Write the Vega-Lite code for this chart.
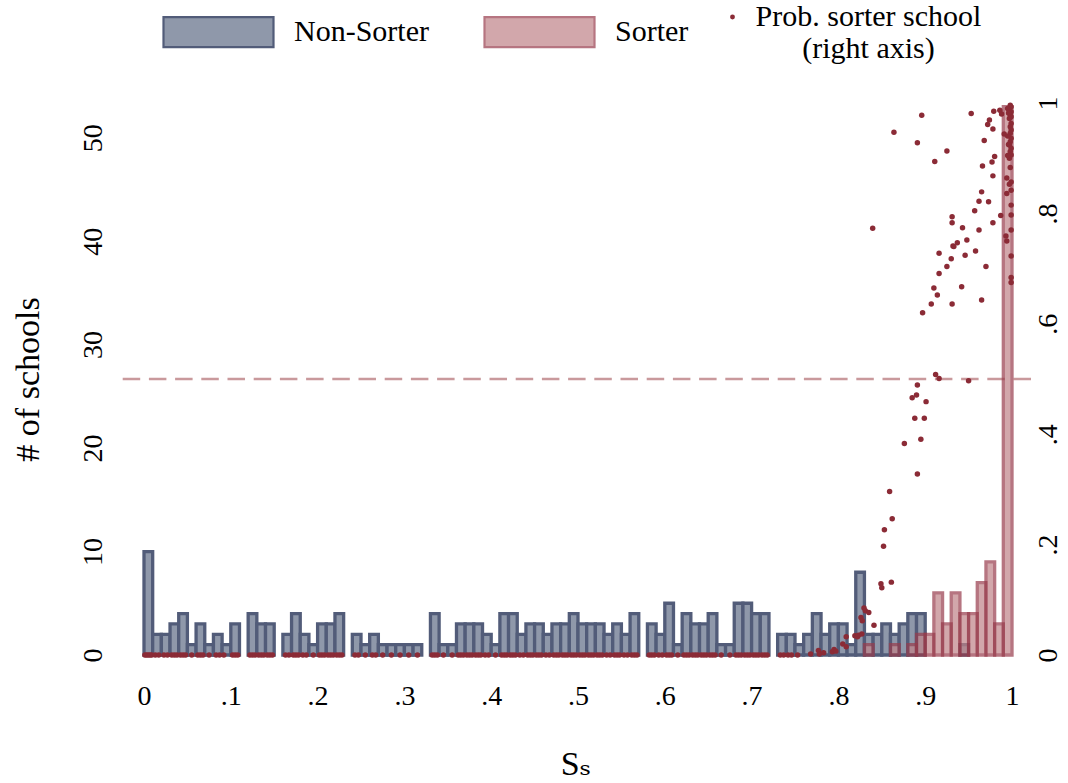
{
  "$schema": "https://vega.github.io/schema/vega-lite/v6.json",
  "width": 911,
  "height": 552,
  "autosize": {"type": "none"},
  "padding": {"left": 120, "top": 103, "right": 37, "bottom": 128},
  "background": "white",
  "config": {
    "font": "Liberation Serif, Times New Roman, DejaVu Serif, serif",
    "view": {"stroke": null},
    "axis": {"labelFont": "Liberation Serif, Times New Roman, DejaVu Serif, serif", "titleFont": "Liberation Serif, Times New Roman, DejaVu Serif, serif", "labelColor": "#000", "titleColor": "#000", "titleFontWeight": "normal", "grid": false, "domain": false, "ticks": false, "tickSize": 0, "labelFontSize": 28, "titleFontSize": 34, "labelFlush": false, "labelOverlap": false},
    "legend": {"labelFont": "Liberation Serif, Times New Roman, DejaVu Serif, serif", "labelFontSize": 30, "labelColor": "#000", "labelLimit": 400, "padding": 0}
  },
  "layer": [
    {
      "data": {"values": [{"p": 0.5}]},
      "mark": {"type": "rule", "color": "#c9999c", "strokeWidth": 2.7, "strokeDash": [17.5, 8.7]},
      "encoding": {
        "y": {"field": "p", "type": "quantitative", "scale": {"domain": [0, 1], "nice": false, "zero": false}, "axis": null}
      }
    },
    {
      "data": {"values": [
        {"g":"Non-Sorter","x0":0.00,"x1":0.01,"n":10},{"g":"Non-Sorter","x0":0.01,"x1":0.02,"n":2},{"g":"Non-Sorter","x0":0.02,"x1":0.03,"n":2},{"g":"Non-Sorter","x0":0.03,"x1":0.04,"n":3},{"g":"Non-Sorter","x0":0.04,"x1":0.05,"n":4},{"g":"Non-Sorter","x0":0.05,"x1":0.06,"n":1},{"g":"Non-Sorter","x0":0.06,"x1":0.07,"n":3},{"g":"Non-Sorter","x0":0.07,"x1":0.08,"n":1},{"g":"Non-Sorter","x0":0.08,"x1":0.09,"n":2},{"g":"Non-Sorter","x0":0.09,"x1":0.10,"n":1},
        {"g":"Non-Sorter","x0":0.10,"x1":0.11,"n":3},{"g":"Non-Sorter","x0":0.12,"x1":0.13,"n":4},{"g":"Non-Sorter","x0":0.13,"x1":0.14,"n":3},{"g":"Non-Sorter","x0":0.14,"x1":0.15,"n":3},{"g":"Non-Sorter","x0":0.16,"x1":0.17,"n":2},{"g":"Non-Sorter","x0":0.17,"x1":0.18,"n":4},{"g":"Non-Sorter","x0":0.18,"x1":0.19,"n":2},{"g":"Non-Sorter","x0":0.19,"x1":0.20,"n":1},
        {"g":"Non-Sorter","x0":0.20,"x1":0.21,"n":3},{"g":"Non-Sorter","x0":0.21,"x1":0.22,"n":3},{"g":"Non-Sorter","x0":0.22,"x1":0.23,"n":4},{"g":"Non-Sorter","x0":0.24,"x1":0.25,"n":2},{"g":"Non-Sorter","x0":0.25,"x1":0.26,"n":1},{"g":"Non-Sorter","x0":0.26,"x1":0.27,"n":2},{"g":"Non-Sorter","x0":0.27,"x1":0.28,"n":1},{"g":"Non-Sorter","x0":0.28,"x1":0.29,"n":1},{"g":"Non-Sorter","x0":0.29,"x1":0.30,"n":1},
        {"g":"Non-Sorter","x0":0.30,"x1":0.31,"n":1},{"g":"Non-Sorter","x0":0.31,"x1":0.32,"n":1},{"g":"Non-Sorter","x0":0.33,"x1":0.34,"n":4},{"g":"Non-Sorter","x0":0.34,"x1":0.35,"n":1},{"g":"Non-Sorter","x0":0.35,"x1":0.36,"n":1},{"g":"Non-Sorter","x0":0.36,"x1":0.37,"n":3},{"g":"Non-Sorter","x0":0.37,"x1":0.38,"n":3},{"g":"Non-Sorter","x0":0.38,"x1":0.39,"n":3},{"g":"Non-Sorter","x0":0.39,"x1":0.40,"n":2},
        {"g":"Non-Sorter","x0":0.40,"x1":0.41,"n":1},{"g":"Non-Sorter","x0":0.41,"x1":0.42,"n":4},{"g":"Non-Sorter","x0":0.42,"x1":0.43,"n":4},{"g":"Non-Sorter","x0":0.43,"x1":0.44,"n":2},{"g":"Non-Sorter","x0":0.44,"x1":0.45,"n":3},{"g":"Non-Sorter","x0":0.45,"x1":0.46,"n":3},{"g":"Non-Sorter","x0":0.46,"x1":0.47,"n":2},{"g":"Non-Sorter","x0":0.47,"x1":0.48,"n":3},{"g":"Non-Sorter","x0":0.48,"x1":0.49,"n":3},{"g":"Non-Sorter","x0":0.49,"x1":0.50,"n":4},
        {"g":"Non-Sorter","x0":0.50,"x1":0.51,"n":3},{"g":"Non-Sorter","x0":0.51,"x1":0.52,"n":3},{"g":"Non-Sorter","x0":0.52,"x1":0.53,"n":3},{"g":"Non-Sorter","x0":0.53,"x1":0.54,"n":2},{"g":"Non-Sorter","x0":0.54,"x1":0.55,"n":3},{"g":"Non-Sorter","x0":0.55,"x1":0.56,"n":2},{"g":"Non-Sorter","x0":0.56,"x1":0.57,"n":4},{"g":"Non-Sorter","x0":0.58,"x1":0.59,"n":3},{"g":"Non-Sorter","x0":0.59,"x1":0.60,"n":2},
        {"g":"Non-Sorter","x0":0.60,"x1":0.61,"n":5},{"g":"Non-Sorter","x0":0.61,"x1":0.62,"n":1},{"g":"Non-Sorter","x0":0.62,"x1":0.63,"n":4},{"g":"Non-Sorter","x0":0.63,"x1":0.64,"n":3},{"g":"Non-Sorter","x0":0.64,"x1":0.65,"n":3},{"g":"Non-Sorter","x0":0.65,"x1":0.66,"n":4},{"g":"Non-Sorter","x0":0.66,"x1":0.67,"n":1},{"g":"Non-Sorter","x0":0.67,"x1":0.68,"n":1},{"g":"Non-Sorter","x0":0.68,"x1":0.69,"n":5},{"g":"Non-Sorter","x0":0.69,"x1":0.70,"n":5},
        {"g":"Non-Sorter","x0":0.70,"x1":0.71,"n":4},{"g":"Non-Sorter","x0":0.71,"x1":0.72,"n":4},{"g":"Non-Sorter","x0":0.73,"x1":0.74,"n":2},{"g":"Non-Sorter","x0":0.74,"x1":0.75,"n":2},{"g":"Non-Sorter","x0":0.75,"x1":0.76,"n":1},{"g":"Non-Sorter","x0":0.76,"x1":0.77,"n":2},{"g":"Non-Sorter","x0":0.77,"x1":0.78,"n":4},{"g":"Non-Sorter","x0":0.78,"x1":0.79,"n":2},{"g":"Non-Sorter","x0":0.79,"x1":0.80,"n":3},
        {"g":"Non-Sorter","x0":0.80,"x1":0.81,"n":3},{"g":"Non-Sorter","x0":0.81,"x1":0.82,"n":1},{"g":"Non-Sorter","x0":0.82,"x1":0.83,"n":8},{"g":"Non-Sorter","x0":0.83,"x1":0.84,"n":2},{"g":"Non-Sorter","x0":0.84,"x1":0.85,"n":2},{"g":"Non-Sorter","x0":0.85,"x1":0.86,"n":3},{"g":"Non-Sorter","x0":0.86,"x1":0.87,"n":2},{"g":"Non-Sorter","x0":0.87,"x1":0.88,"n":3},{"g":"Non-Sorter","x0":0.88,"x1":0.89,"n":4},{"g":"Non-Sorter","x0":0.89,"x1":0.90,"n":4},
        {"g":"Non-Sorter","x0":0.94,"x1":0.95,"n":1},
        {"g":"Sorter","x0":0.83,"x1":0.84,"n":1},{"g":"Sorter","x0":0.86,"x1":0.87,"n":1},{"g":"Sorter","x0":0.88,"x1":0.89,"n":1},{"g":"Sorter","x0":0.89,"x1":0.90,"n":2},{"g":"Sorter","x0":0.90,"x1":0.91,"n":2},{"g":"Sorter","x0":0.91,"x1":0.92,"n":6},{"g":"Sorter","x0":0.92,"x1":0.93,"n":3},{"g":"Sorter","x0":0.93,"x1":0.94,"n":6},{"g":"Sorter","x0":0.94,"x1":0.95,"n":4},{"g":"Sorter","x0":0.95,"x1":0.96,"n":4},{"g":"Sorter","x0":0.96,"x1":0.97,"n":7},{"g":"Sorter","x0":0.97,"x1":0.98,"n":9},{"g":"Sorter","x0":0.98,"x1":0.99,"n":3},{"g":"Sorter","x0":0.99,"x1":1.00,"n":53}
      ]},
      "mark": {"type": "bar", "strokeWidth": 3.3},
      "encoding": {
        "x": {"field": "x0", "type": "quantitative", "scale": {"domain": [-0.02765, 1.02189], "nice": false, "zero": false},
          "axis": {"values": [0, 0.1, 0.2, 0.3, 0.4, 0.5, 0.6, 0.7, 0.8, 0.9, 1], "labelExpr": "datum.value == 0 ? '0' : datum.value == 1 ? '1' : replace(format(datum.value, '.1f'), '0.', '.')", "labelPadding": 27, "title": "Sₛ", "titlePadding": 37}},
        "x2": {"field": "x1"},
        "y": {"field": "n", "type": "quantitative", "scale": {"domain": [0, 53.35], "nice": false},
          "axis": {"orient": "left", "values": [0, 10, 20, 30, 40, 50], "labelAngle": -90, "labelAlign": "center", "labelBaseline": "alphabetic", "labelPadding": 19, "title": "# of schools", "titleAngle": -90, "titleAlign": "center", "titleBaseline": "alphabetic", "titlePadding": 41}},
        "y2": {"datum": 0},
        "color": {"field": "g", "type": "nominal", "scale": {"domain": ["Non-Sorter", "Sorter"], "range": ["#8f98aa", "#c08388"]},
          "legend": {"orient": "none", "legendX": 42, "legendY": -127.5, "direction": "horizontal", "title": null, "symbolType": "M-1,-0.2727H1V0.2727H-1Z", "symbolSize": 12100, "symbolStrokeWidth": 2, "labelOffset": 19, "columnPadding": 51, "labelBaseline": "middle",
            "encode": {"symbols": {"update": {"fill": {"signal": "datum.value === 'Sorter' ? '#c99a9d' : '#8e97a9'"}, "stroke": {"signal": "datum.value === 'Sorter' ? '#b5737b' : '#57617c'"}, "strokeWidth": {"value": 2.2}, "opacity": {"value": 1}, "fillOpacity": {"value": 1}}}}}},
        "stroke": {"field": "g", "type": "nominal", "scale": {"domain": ["Non-Sorter", "Sorter"], "range": ["#525c79", "#983c4c"]}, "legend": null},
        "opacity": {"field": "g", "type": "nominal", "scale": {"domain": ["Non-Sorter", "Sorter"], "range": [1, 0.7]}, "legend": null}
      }
    },
    {
      "data": {"values": [
        {"s":0.001,"p":0},{"s":0.003,"p":0},{"s":0.005,"p":0},{"s":0.007,"p":0},{"s":0.009,"p":0},
        {"s":0.013,"p":0},{"s":0.017,"p":0},{"s":0.023,"p":0},{"s":0.027,"p":0},
        {"s":0.032,"p":0},{"s":0.035,"p":0},{"s":0.038,"p":0},{"s":0.042,"p":0},{"s":0.045,"p":0},{"s":0.048,"p":0},
        {"s":0.055,"p":0},{"s":0.062,"p":0},{"s":0.065,"p":0},{"s":0.068,"p":0},{"s":0.075,"p":0},{"s":0.083,"p":0},{"s":0.087,"p":0},{"s":0.092,"p":0},
        {"s":0.102,"p":0},{"s":0.105,"p":0},{"s":0.108,"p":0},
        {"s":0.122,"p":0},{"s":0.125,"p":0},{"s":0.128,"p":0},{"s":0.132,"p":0},{"s":0.135,"p":0},{"s":0.138,"p":0},{"s":0.142,"p":0},{"s":0.145,"p":0},{"s":0.148,"p":0},
        {"s":0.163,"p":0},{"s":0.167,"p":0},{"s":0.172,"p":0},{"s":0.175,"p":0},{"s":0.178,"p":0},{"s":0.183,"p":0},{"s":0.187,"p":0},{"s":0.195,"p":0},
        {"s":0.202,"p":0},{"s":0.205,"p":0},{"s":0.208,"p":0},{"s":0.212,"p":0},{"s":0.215,"p":0},{"s":0.218,"p":0},{"s":0.222,"p":0},{"s":0.225,"p":0},{"s":0.228,"p":0},
        {"s":0.243,"p":0},{"s":0.247,"p":0},{"s":0.255,"p":0},{"s":0.263,"p":0},{"s":0.267,"p":0},{"s":0.275,"p":0},{"s":0.285,"p":0},{"s":0.295,"p":0},{"s":0.305,"p":0},{"s":0.315,"p":0},
        {"s":0.332,"p":0},{"s":0.335,"p":0},{"s":0.338,"p":0},{"s":0.345,"p":0},{"s":0.355,"p":0},
        {"s":0.362,"p":0},{"s":0.365,"p":0},{"s":0.368,"p":0},{"s":0.372,"p":0},{"s":0.375,"p":0},{"s":0.378,"p":0},{"s":0.382,"p":0},{"s":0.385,"p":0},{"s":0.388,"p":0},{"s":0.393,"p":0},{"s":0.397,"p":0},
        {"s":0.405,"p":0},{"s":0.412,"p":0},{"s":0.415,"p":0},{"s":0.418,"p":0},{"s":0.422,"p":0},{"s":0.425,"p":0},{"s":0.428,"p":0},{"s":0.433,"p":0},{"s":0.437,"p":0},
        {"s":0.442,"p":0},{"s":0.445,"p":0},{"s":0.448,"p":0},{"s":0.452,"p":0},{"s":0.455,"p":0},{"s":0.458,"p":0},{"s":0.463,"p":0},{"s":0.467,"p":0},
        {"s":0.472,"p":0},{"s":0.475,"p":0},{"s":0.478,"p":0},{"s":0.482,"p":0},{"s":0.485,"p":0},{"s":0.488,"p":0},{"s":0.492,"p":0},{"s":0.495,"p":0},{"s":0.498,"p":0},
        {"s":0.502,"p":0},{"s":0.505,"p":0},{"s":0.508,"p":0},{"s":0.512,"p":0},{"s":0.515,"p":0},{"s":0.518,"p":0},{"s":0.522,"p":0},{"s":0.525,"p":0},{"s":0.528,"p":0},
        {"s":0.533,"p":0},{"s":0.537,"p":0},{"s":0.542,"p":0},{"s":0.545,"p":0},{"s":0.548,"p":0},{"s":0.553,"p":0},{"s":0.557,"p":0},{"s":0.562,"p":0},{"s":0.565,"p":0},{"s":0.568,"p":0},
        {"s":0.582,"p":0},{"s":0.585,"p":0},{"s":0.588,"p":0},{"s":0.593,"p":0},{"s":0.597,"p":0},{"s":0.602,"p":0},{"s":0.605,"p":0},{"s":0.608,"p":0},{"s":0.615,"p":0},
        {"s":0.622,"p":0},{"s":0.625,"p":0},{"s":0.628,"p":0},{"s":0.632,"p":0},{"s":0.635,"p":0},{"s":0.638,"p":0},{"s":0.642,"p":0},{"s":0.645,"p":0},{"s":0.648,"p":0},{"s":0.652,"p":0},{"s":0.655,"p":0},{"s":0.658,"p":0},
        {"s":0.665,"p":0},{"s":0.675,"p":0},
        {"s":0.682,"p":0},{"s":0.685,"p":0},{"s":0.688,"p":0},{"s":0.692,"p":0},{"s":0.695,"p":0},{"s":0.698,"p":0},{"s":0.702,"p":0},{"s":0.705,"p":0},{"s":0.708,"p":0},{"s":0.712,"p":0},{"s":0.715,"p":0},{"s":0.718,"p":0},
        {"s":0.733,"p":0},{"s":0.737,"p":0},{"s":0.742,"p":0},{"s":0.746,"p":0},{"s":0.753,"p":0},
        {"s":0.768,"p":0.002},{"s":0.777,"p":0.008},{"s":0.778,"p":0.002},{"s":0.783,"p":0.004},{"s":0.793,"p":0.006},{"s":0.795,"p":0.010},{"s":0.797,"p":0.007},
        {"s":0.805,"p":0.020},{"s":0.809,"p":0.033},{"s":0.809,"p":0.015},{"s":0.819,"p":0.035},{"s":0.822,"p":0.033},{"s":0.823,"p":0.036},{"s":0.827,"p":0.038},
        {"s":0.8295,"p":0.085},{"s":0.831,"p":0.080},{"s":0.835,"p":0.077},{"s":0.826,"p":0.068},{"s":0.8275,"p":0.062},{"s":0.841,"p":0.054},
        {"s":0.849,"p":0.129},{"s":0.850,"p":0.122},{"s":0.861,"p":0.132},{"s":0.8395,"p":0.773},
        {"s":0.852,"p":0.197},{"s":0.853,"p":0.227},{"s":0.862,"p":0.247},{"s":0.859,"p":0.296},{"s":0.876,"p":0.383},{"s":0.891,"p":0.328},{"s":0.895,"p":0.391},
        {"s":0.888,"p":0.429},{"s":0.899,"p":0.429},{"s":0.901,"p":0.459},{"s":0.885,"p":0.466},{"s":0.890,"p":0.471},{"s":0.891,"p":0.489},{"s":0.912,"p":0.508},{"s":0.916,"p":0.501},{"s":0.950,"p":0.497},
        {"s":0.896,"p":0.978},{"s":0.864,"p":0.947},{"s":0.891,"p":0.928},{"s":0.925,"p":0.913},{"s":0.911,"p":0.894},{"s":0.953,"p":0.981},{"s":0.979,"p":0.985},{"s":0.986,"p":0.987},{"s":0.988,"p":0.980},
        {"s":0.974,"p":0.969},{"s":0.972,"p":0.961},{"s":0.978,"p":0.953},{"s":0.991,"p":0.944},{"s":0.968,"p":0.932},{"s":0.980,"p":0.903},{"s":0.977,"p":0.893},{"s":0.966,"p":0.886},{"s":0.978,"p":0.868},
        {"s":0.965,"p":0.839},{"s":0.962,"p":0.822},{"s":0.973,"p":0.821},{"s":0.957,"p":0.805},{"s":0.987,"p":0.796},{"s":0.931,"p":0.794},{"s":0.931,"p":0.783},{"s":0.943,"p":0.774},{"s":0.962,"p":0.770},
        {"s":0.978,"p":0.783},{"s":0.993,"p":0.759},{"s":0.948,"p":0.752},{"s":0.937,"p":0.747},{"s":0.932,"p":0.741},{"s":0.933,"p":0.740},{"s":0.916,"p":0.728},{"s":0.958,"p":0.732},{"s":0.946,"p":0.724},
        {"s":0.930,"p":0.718},{"s":0.925,"p":0.704},{"s":0.970,"p":0.704},{"s":0.916,"p":0.691},{"s":0.910,"p":0.665},{"s":0.914,"p":0.652},{"s":0.942,"p":0.667},{"s":0.907,"p":0.636},{"s":0.931,"p":0.636},{"s":0.965,"p":0.643},{"s":0.897,"p":0.620},
        {"s":0.998,"p":0.996},{"s":0.999,"p":0.993},{"s":0.997,"p":0.987},{"s":0.999,"p":0.984},{"s":0.998,"p":0.978},{"s":0.999,"p":0.975},{"s":0.997,"p":0.972},{"s":0.999,"p":0.963},{"s":0.998,"p":0.957},
        {"s":0.999,"p":0.951},{"s":0.998,"p":0.945},{"s":0.999,"p":0.936},{"s":0.998,"p":0.930},{"s":0.997,"p":0.924},{"s":0.999,"p":0.918},{"s":0.998,"p":0.912},{"s":0.999,"p":0.906},{"s":0.997,"p":0.900},
        {"s":0.998,"p":0.883},{"s":0.994,"p":0.864},{"s":0.999,"p":0.857},{"s":0.997,"p":0.853},{"s":0.999,"p":0.842},{"s":0.994,"p":0.836},{"s":0.999,"p":0.815},{"s":0.999,"p":0.797},{"s":0.999,"p":0.770},
        {"s":0.994,"p":0.750},{"s":0.999,"p":0.723},{"s":0.999,"p":0.684},{"s":0.999,"p":0.675},{"s":0.995,"p":0.990},{"s":0.996,"p":0.982},{"s":0.995,"p":0.940},{"s":0.996,"p":0.925},{"s":0.995,"p":0.905}
      ]},
      "mark": {"type": "point", "filled": true, "size": 30, "color": "#8b2b36", "opacity": 1, "strokeWidth": 0},
      "encoding": {
        "x": {"field": "s", "type": "quantitative"},
        "y": {"field": "p", "type": "quantitative", "scale": {"domain": [0, 1], "nice": false, "zero": false},
          "axis": {"orient": "right", "values": [0, 0.2, 0.4, 0.6, 0.8, 1], "labelExpr": "datum.value == 0 ? '0' : datum.value == 1 ? '1' : replace(format(datum.value, '.1f'), '0.', '.')", "labelAngle": -90, "labelAlign": "center", "labelBaseline": "top", "labelPadding": 3, "title": null}},
        "shape": {"datum": "Prob. sorter school|(right axis)", "type": "nominal", "scale": {"range": ["circle"]},
          "legend": {"orient": "none", "legendX": 597.5, "legendY": -101, "title": null, "symbolSize": 24, "symbolFillColor": "#8b2b36", "symbolStrokeWidth": 0, "labelAlign": "center", "labelOffset": 121, "labelBaseline": "middle", "labelExpr": "split(datum.label, '|')",
            "encode": {"labels": {"update": {"lineHeight": {"value": 28}}}}}}
      }
    }
  ],
  "resolve": {"scale": {"y": "independent"}}
}
